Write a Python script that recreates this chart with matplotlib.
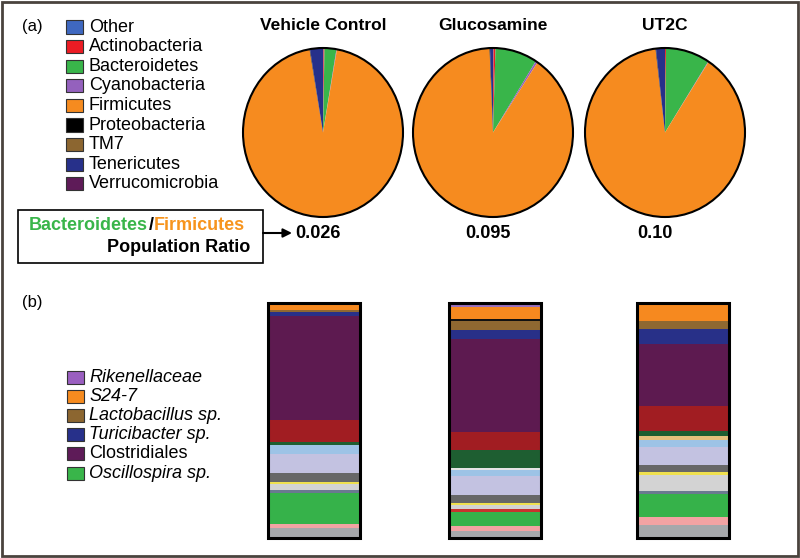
import matplotlib.pyplot as plt
from matplotlib.patches import Rectangle, Ellipse, FancyArrowPatch
import numpy as np

plt.rcParams['font.family'] = ['Liberation Sans', 'DejaVu Sans']

W, H = 800, 558

# (a) phylum level pies
phyla = ['Other', 'Actinobacteria', 'Bacteroidetes', 'Cyanobacteria', 'Firmicutes',
         'Proteobacteria', 'TM7', 'Tenericutes', 'Verrucomicrobia']
phyla_colors = ['#3F68C0', '#EC1C24', '#39B54A', '#9461BD', '#F68B1F',
                '#000000', '#8C6630', '#27308A', '#5E1B58']
treatments = ['Vehicle Control', 'Glucosamine', 'UT2C']
vehicle_pie = [0.1, 0.2, 2.4, 0.1, 94.6, 0.1, 0.0, 2.6, 0.0]
glucosamine_pie = [0.1, 0.4, 8.5, 0.4, 89.9, 0.1, 0.0, 0.6, 0.0]
ut2c_pie = [0.0, 0.2, 8.9, 0.1, 88.9, 0.1, 0.0, 1.8, 0.0]
ratios = ['0.026', '0.095', '0.10']

# (b) genus level stacked bars, bottom -> top
seg_names = ['gray', 'pink', 'Oscillospira sp.', 'slate', 'thin red', 'light gray', 'yellow',
             'dark gray', 'lavender', 'light blue', 'pale', 'tan', 'dark green', 'red',
             'Clostridiales', 'Turicibacter sp.', 'Lactobacillus sp.', 'black', 'S24-7',
             'Rikenellaceae']
seg_colors = ['#A6A8AB', '#F2A3A3', '#36B24A', '#6A7A90', '#C8332E', '#D3D3D3', '#EFE04E',
              '#676767', '#C3C2E1', '#9DC3E6', '#E4E4E4', '#E6C17C', '#1E5E31', '#A11D22',
              '#5D1A50', '#283088', '#8F6831', '#111111', '#F6891F', '#9A70BF']
vehicle_bar = [10, 4, 31, 3, 0, 6, 2, 8, 19, 9, 0, 0, 3, 22, 103, 4, 2, 0, 7, 0]
glucosamine_bar = [7, 5, 14, 0, 3, 4, 2, 8, 18, 6, 2, 0, 18, 18, 92, 9, 9, 2, 12, 4]
ut2c_bar = [13, 8, 22, 3, 0, 16, 3, 7, 17, 7, 0, 4, 5, 25, 61, 14, 8, 0, 18, 0]

legend_b = ['Rikenellaceae', 'S24-7', 'Lactobacillus sp.', 'Turicibacter sp.',
            'Clostridiales', 'Oscillospira sp.']
legend_b_colors = ['#9A5FC0', '#F68B1F', '#8C6630', '#27308A', '#5E1B58', '#39B54A']
legend_b_italic = [True, True, True, True, False, True]


def fx(x):
    return x / W


def fy(y):
    return 1 - y / H


def fbox(x0, y0, x1, y1):
    return [x0 / W, 1 - y1 / H, (x1 - x0) / W, (y1 - y0) / H]


fig = plt.figure(figsize=(8, 5.58), dpi=100)

# outer frame
fig.patches.append(Rectangle((fx(2), fy(556)), fx(796), 554 / H, transform=fig.transFigure,
                             fill=False, lw=2, ec='#4a433d'))

fig.text(fx(22), fy(27), '(a)', fontsize=12, va='center')
fig.text(fx(22), fy(303), '(b)', fontsize=12, va='center')

# legend (a)
for i, (name, col) in enumerate(zip(phyla, phyla_colors)):
    y = 27 + i * 19.6
    fig.patches.append(Rectangle((fx(66), fy(y + 6.5)), 17 / W, 13 / H, transform=fig.transFigure,
                                 fc=col, ec='#333333', lw=0.8))
    fig.text(fx(89), fy(y), name, fontsize=13, va='center')

# pies (slightly taller than wide, as in the original)
pie_centers = [323, 493, 665]
rx, ry = 80, 84.5
pad = 1.05
for cx, title, vals, ratio, tx in zip(pie_centers, treatments,
                                      [vehicle_pie, glucosamine_pie, ut2c_pie],
                                      ratios, [318, 488, 655]):
    ax = fig.add_axes(fbox(cx - rx * pad, 132.5 - ry * pad, cx + rx * pad, 132.5 + ry * pad))
    ax.pie(vals, colors=phyla_colors, startangle=90, counterclock=False,
           wedgeprops=dict(linewidth=0))
    ax.add_patch(Ellipse((0, 0), 2, 2, fill=False, ec='black', lw=1.5))
    ax.set_xlim(-pad, pad)
    ax.set_ylim(-pad, pad)
    ax.set_aspect('auto')
    ax.axis('off')
    fig.text(fx(cx), fy(25), title, fontsize=12.5, fontweight='bold', ha='center', va='center')
    fig.text(fx(tx), fy(233), ratio, fontsize=13, fontweight='bold', ha='center', va='center')

# ratio box
fig.patches.append(Rectangle((fx(18), fy(263)), 245 / W, 53 / H, transform=fig.transFigure,
                             fill=False, ec='black', lw=1.2))
fig.text(fx(148), fy(225), 'Bacteroidetes', color='#39B54A', fontsize=13,
         fontweight='bold', ha='right', va='center')
fig.text(fx(151), fy(225), '/', color='black', fontsize=13,
         fontweight='bold', ha='center', va='center')
fig.text(fx(154), fy(225), 'Firmicutes', color='#F7941D', fontsize=13,
         fontweight='bold', ha='left', va='center')
fig.text(fx(250), fy(248), 'Population Ratio', fontsize=13,
         fontweight='bold', ha='right', va='center')
fig.add_artist(FancyArrowPatch((fx(263), fy(233)), (fx(292), fy(233)), transform=fig.transFigure,
                               arrowstyle='-|>', mutation_scale=13, lw=1.5, color='black',
                               shrinkA=0, shrinkB=0))

# legend (b)
for i, (name, col, it) in enumerate(zip(legend_b, legend_b_colors, legend_b_italic)):
    y = 377 + i * 19.2
    fig.patches.append(Rectangle((fx(67), fy(y + 6.5)), 17 / W, 13 / H, transform=fig.transFigure,
                                 fc=col, ec='#333333', lw=0.8))
    fig.text(fx(89), fy(y), name, fontsize=13, va='center',
             fontstyle='italic' if it else 'normal')

# stacked bars
bar_centers = [314, 495, 683]
bar_w = 92
axb = fig.add_axes(fbox(268, 303, 729, 538))
for xc, vals in zip(bar_centers, [vehicle_bar, glucosamine_bar, ut2c_bar]):
    v = np.array(vals, dtype=float)
    h = v / v.sum() * 100
    bottoms = np.concatenate([[0], np.cumsum(h)[:-1]])
    axb.bar([xc] * len(h), h, bottom=bottoms, width=bar_w, color=seg_colors, linewidth=0)
    axb.bar(xc, 100, width=bar_w, fill=False, edgecolor='black', linewidth=2.2, clip_on=False)
axb.set_xlim(268, 729)
axb.set_ylim(0, 100)
axb.axis('off')

fig.savefig('out.png', dpi=100)
